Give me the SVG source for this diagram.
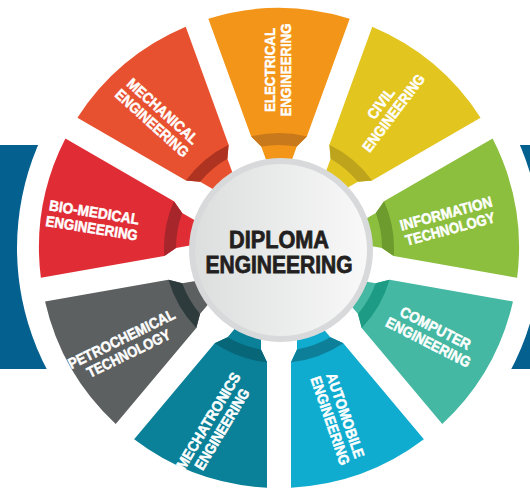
<svg xmlns="http://www.w3.org/2000/svg" xmlns:xlink="http://www.w3.org/1999/xlink" width="530" height="496" viewBox="0 0 530 496">
<style>
.lbl{font-family:"Liberation Sans",Arial,sans-serif;font-weight:bold;font-size:15px;fill:#ffffff;stroke:#ffffff;stroke-width:0.5;text-anchor:middle}
.ctr{font-family:"Liberation Sans",Arial,sans-serif;font-weight:bold;font-size:24px;fill:#231f20;stroke:#231f20;stroke-width:0.8;text-anchor:middle}
</style>
<defs>
<path id="seg" d="M229.35 -70.69 A240 240 0 0 1 229.35 70.69 L111.58 27.84 L101.46 17.77 L77.47 9.04 A78 78 0 0 0 77.47 -9.04 L101.46 -17.77 L111.58 -27.84 Z"/>
<path id="band" d="M111.58 -27.84 A115 115 0 0 1 111.58 27.84 L101.46 17.77 A103 103 0 0 0 101.46 -17.77 Z"/>
<linearGradient id="disc" x1="0" y1="0" x2="1" y2="0">
<stop offset="0" stop-color="#dcdddd"/>
<stop offset="1" stop-color="#f9f9f9"/>
</linearGradient>
</defs>
<rect x="0" y="0" width="530" height="496" fill="#ffffff"/>
<g id="background">
<rect x="0" y="145" width="530" height="224" fill="#03608f"/>
<circle cx="279" cy="248" r="262" fill="#ffffff"/>
</g>
<g id="connectors"/>
<g id="mechanical">
<use xlink:href="#seg" fill="#e8512f" transform="translate(279 248) rotate(-130)"/>
<use xlink:href="#band" fill="#ae3421" transform="translate(279 248) rotate(-130)"/>
<g transform="translate(157.5 117) rotate(42)"><text class="lbl" y="-2.6" textLength="90" lengthAdjust="spacingAndGlyphs">MECHANICAL</text><text class="lbl" y="13.4" textLength="93" lengthAdjust="spacingAndGlyphs">ENGINEERING</text></g>
</g>
<g id="electrical">
<use xlink:href="#seg" fill="#f29518" transform="translate(279 248) rotate(-90)"/>
<use xlink:href="#band" fill="#c8791c" transform="translate(279 248) rotate(-90)"/>
<g transform="translate(278 70) rotate(-90)"><text class="lbl" y="-2.6" textLength="84" lengthAdjust="spacingAndGlyphs">ELECTRICAL</text><text class="lbl" y="13.4" textLength="93" lengthAdjust="spacingAndGlyphs">ENGINEERING</text></g>
</g>
<g id="civil">
<use xlink:href="#seg" fill="#e3c520" transform="translate(279 248) rotate(-50)"/>
<use xlink:href="#band" fill="#bda41c" transform="translate(279 248) rotate(-50)"/>
<g transform="translate(387 108) rotate(-53)"><text class="lbl" y="-2.6" textLength="35" lengthAdjust="spacingAndGlyphs">CIVIL</text><text class="lbl" y="13.4" textLength="93" lengthAdjust="spacingAndGlyphs">ENGINEERING</text></g>
</g>
<g id="information-technology">
<use xlink:href="#seg" fill="#8cbf3e" transform="translate(279 248) rotate(-10)"/>
<use xlink:href="#band" fill="#6e9b2e" transform="translate(279 248) rotate(-10)"/>
<g transform="translate(448 221) rotate(-15)"><text class="lbl" y="-2.6" textLength="95" lengthAdjust="spacingAndGlyphs">INFORMATION</text><text class="lbl" y="13.4" textLength="92" lengthAdjust="spacingAndGlyphs">TECHNOLOGY</text></g>
</g>
<g id="computer">
<use xlink:href="#seg" fill="#44b8a2" transform="translate(279 248) rotate(30)"/>
<use xlink:href="#band" fill="#1e9b84" transform="translate(279 248) rotate(30)"/>
<g transform="translate(432 335) rotate(27)"><text class="lbl" y="-2.6" textLength="77" lengthAdjust="spacingAndGlyphs">COMPUTER</text><text class="lbl" y="13.4" textLength="93" lengthAdjust="spacingAndGlyphs">ENGINEERING</text></g>
</g>
<g id="automobile">
<use xlink:href="#seg" fill="#10acd0" transform="translate(279 248) rotate(70)"/>
<use xlink:href="#band" fill="#0e7f98" transform="translate(279 248) rotate(70)"/>
<g transform="translate(338 418) rotate(71)"><text class="lbl" y="-2.6" textLength="89" lengthAdjust="spacingAndGlyphs">AUTOMOBILE</text><text class="lbl" y="13.4" textLength="93" lengthAdjust="spacingAndGlyphs">ENGINEERING</text></g>
</g>
<g id="mechatronics">
<use xlink:href="#seg" fill="#0a8198" transform="translate(279 248) rotate(110)"/>
<use xlink:href="#band" fill="#086679" transform="translate(279 248) rotate(110)"/>
<g transform="translate(215 425) rotate(-59)"><text class="lbl" y="-2.6" textLength="110" lengthAdjust="spacingAndGlyphs">MECHATRONICS</text><text class="lbl" y="13.4" textLength="92" lengthAdjust="spacingAndGlyphs">ENGINEERING</text></g>
</g>
<g id="petrochemical">
<use xlink:href="#seg" fill="#5c6060" transform="translate(279 248) rotate(150)"/>
<use xlink:href="#band" fill="#2e3b3c" transform="translate(279 248) rotate(150)"/>
<g transform="translate(125 346) rotate(-26)"><text class="lbl" y="-2.6" textLength="117" lengthAdjust="spacingAndGlyphs">PETROCHEMICAL</text><text class="lbl" y="13.4" textLength="91" lengthAdjust="spacingAndGlyphs">TECHNOLOGY</text></g>
</g>
<g id="bio-medical">
<use xlink:href="#seg" fill="#e02d35" transform="translate(279 248) rotate(190)"/>
<use xlink:href="#band" fill="#a6262b" transform="translate(279 248) rotate(190)"/>
<g transform="translate(93 220) rotate(9)"><text class="lbl" y="-2.6" textLength="91" lengthAdjust="spacingAndGlyphs">BIO-MEDICAL</text><text class="lbl" y="13.4" textLength="93" lengthAdjust="spacingAndGlyphs">ENGINEERING</text></g>
</g>
<g id="center">
<circle cx="281" cy="250" r="89" fill="url(#disc)" stroke="#d8d9da" stroke-width="6"/>
<text class="ctr" x="279" y="247.5" textLength="100" lengthAdjust="spacingAndGlyphs">DIPLOMA</text>
<text class="ctr" x="279" y="273" textLength="147" lengthAdjust="spacingAndGlyphs">ENGINEERING</text>
</g>
</svg>
